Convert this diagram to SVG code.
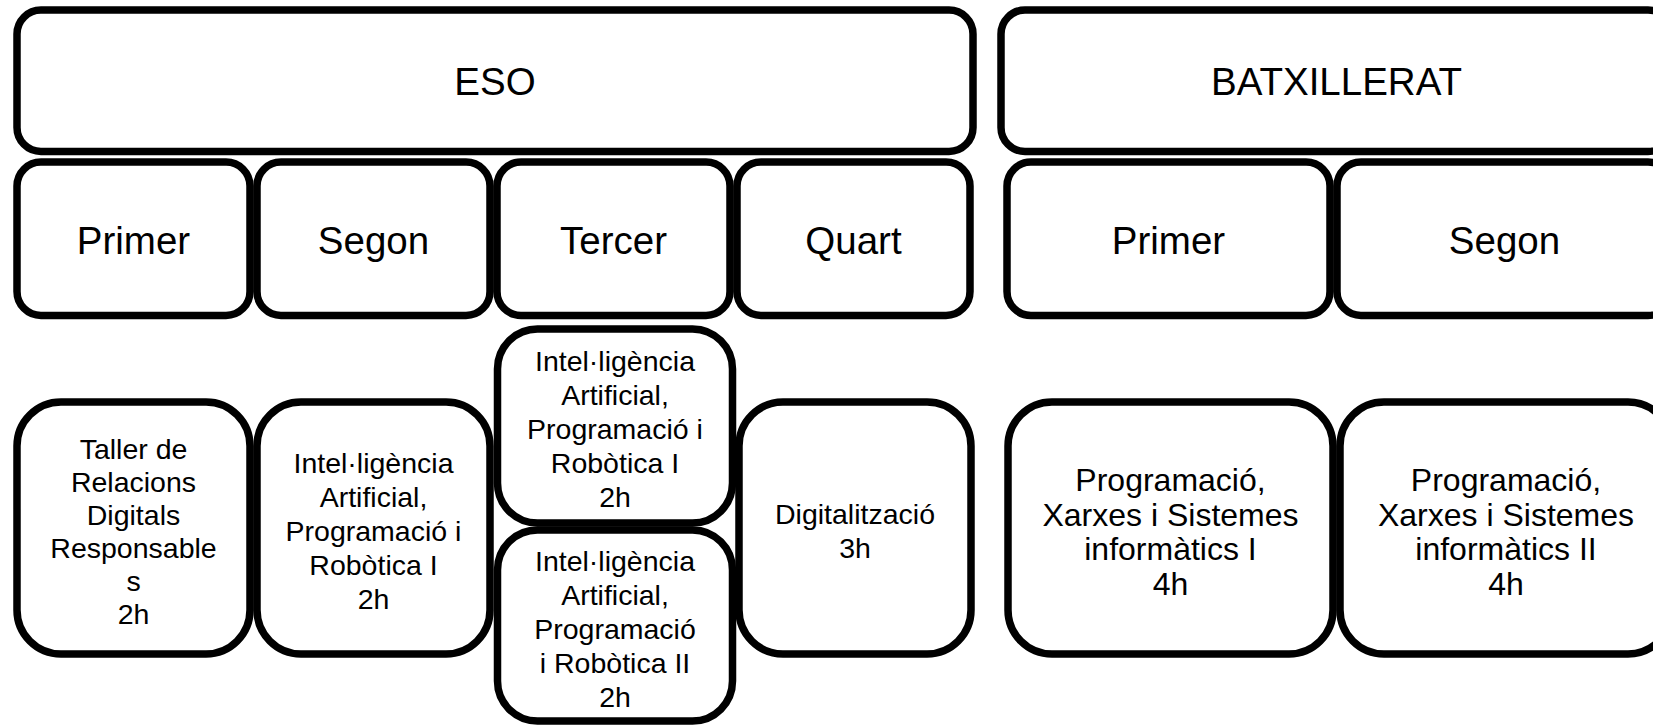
<svg xmlns="http://www.w3.org/2000/svg" width="1653" height="727" viewBox="0 0 1653 727">
<style>
.b{fill:#fff;stroke:#000;stroke-width:7.5}
.t{font-family:"Liberation Sans",Arial,sans-serif;fill:#000;text-anchor:middle}
.h{font-size:38.5px}
.s{font-size:28.5px}
.m{font-size:32px}
</style>
<rect width="1653" height="727" fill="#fff"/>
<g id="connectors"/>
<g id="eso"><rect class="b" x="17" y="10" width="956" height="141.5" rx="24"/><text class="t h" x="495" y="95">ESO</text></g>
<g id="batx"><rect class="b" x="1001" y="10" width="671" height="141.5" rx="24"/><text class="t h" x="1336.5" y="95">BATXILLERAT</text></g>
<g id="eso1"><rect class="b" x="17" y="162" width="233" height="153.5" rx="24"/><text class="t h" x="133.5" y="254">Primer</text></g>
<g id="eso2"><rect class="b" x="257" y="162" width="233" height="153.5" rx="24"/><text class="t h" x="373.5" y="254">Segon</text></g>
<g id="eso3"><rect class="b" x="497" y="162" width="233" height="153.5" rx="24"/><text class="t h" x="613.5" y="254">Tercer</text></g>
<g id="eso4"><rect class="b" x="737" y="162" width="233" height="153.5" rx="24"/><text class="t h" x="853.5" y="254">Quart</text></g>
<g id="bat1"><rect class="b" x="1007" y="162" width="323" height="153.5" rx="24"/><text class="t h" x="1168.5" y="254">Primer</text></g>
<g id="bat2"><rect class="b" x="1337" y="162" width="335" height="153.5" rx="24"/><text class="t h" x="1504.5" y="254">Segon</text></g>
<g id="taller"><rect class="b" x="17" y="402" width="233" height="252" rx="44"/>
<text class="t s" x="133.5"><tspan x="133.5" y="458.5">Taller de</tspan><tspan x="133.5" y="491.5">Relacions</tspan><tspan x="133.5" y="524.5">Digitals</tspan><tspan x="133.5" y="557.5">Responsable</tspan><tspan x="133.5" y="590.5">s</tspan><tspan x="133.5" y="623.5">2h</tspan></text></g>
<g id="iapr1a"><rect class="b" x="257" y="402" width="233" height="252" rx="44"/>
<text class="t s" x="373.5"><tspan x="373.5" y="473">Intel·ligència</tspan><tspan x="373.5" y="507">Artificial,</tspan><tspan x="373.5" y="541">Programació i</tspan><tspan x="373.5" y="575">Robòtica I</tspan><tspan x="373.5" y="609">2h</tspan></text></g>
<g id="iapr1b"><rect class="b" x="497.5" y="329" width="235" height="194" rx="40"/>
<text class="t s" x="615"><tspan x="615" y="371">Intel·ligència</tspan><tspan x="615" y="405">Artificial,</tspan><tspan x="615" y="439">Programació i</tspan><tspan x="615" y="473">Robòtica I</tspan><tspan x="615" y="507">2h</tspan></text></g>
<g id="iapr2"><rect class="b" x="497.5" y="530" width="235" height="191" rx="40"/>
<text class="t s" x="615"><tspan x="615" y="571">Intel·ligència</tspan><tspan x="615" y="605">Artificial,</tspan><tspan x="615" y="639">Programació</tspan><tspan x="615" y="673">i Robòtica II</tspan><tspan x="615" y="707">2h</tspan></text></g>
<g id="digi"><rect class="b" x="739" y="402" width="232" height="252" rx="44"/>
<text class="t s" x="855"><tspan x="855" y="524">Digitalització</tspan><tspan x="855" y="558">3h</tspan></text></g>
<g id="pxs1"><rect class="b" x="1008" y="402" width="325" height="252" rx="44"/>
<text class="t m" x="1170.5"><tspan x="1170.5" y="491">Programació,</tspan><tspan x="1170.5" y="526">Xarxes i Sistemes</tspan><tspan x="1170.5" y="560">informàtics I</tspan><tspan x="1170.5" y="595">4h</tspan></text></g>
<g id="pxs2"><rect class="b" x="1340" y="402" width="332" height="252" rx="44"/>
<text class="t m" x="1506"><tspan x="1506" y="491">Programació,</tspan><tspan x="1506" y="526">Xarxes i Sistemes</tspan><tspan x="1506" y="560">informàtics II</tspan><tspan x="1506" y="595">4h</tspan></text></g>
</svg>
